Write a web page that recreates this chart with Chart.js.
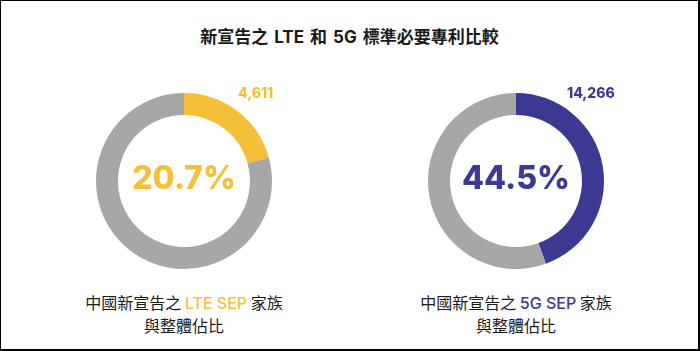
<!DOCTYPE html>
<html>
<head>
<meta charset="utf-8">
<script src="https://cdn.jsdelivr.net/npm/chart.js@4"></script>
<style>
    html, body { margin: 0; padding: 0; background: #fff; }
    #frame {
        position: relative;
        width: 700px; height: 351px;
        box-sizing: border-box;
        border-left: 1px solid #000; border-top: 1px solid #000;
        border-right: 2px solid #000; border-bottom: 2px solid #000;
        font-family: "Noto Sans CJK TC", "Noto Sans", sans-serif;
        color: #1a1a1a;
    }
    #title {
        position: absolute; left: 0; width: 100%; top: 22px;
        text-align: center; font-size: 17px; font-weight: 700;
        font-family: Inter, "Noto Sans CJK TC", sans-serif;
        word-spacing: 2px;
    }
    .box { position: absolute; top: 80px; width: 300px; height: 200px; }
    .caption {
        position: absolute; top: 290px; width: 300px;
        text-align: center; font-size: 16px; line-height: 22px;
    }
    .caption b { font-weight: 500; font-family: Inter, "Noto Sans CJK TC", sans-serif; }
</style>
</head>
<body>
<div id="frame">
    <div id="title">新宣告之 LTE 和 5G 標準必要專利比較</div>
    <div class="box" style="left:33px"><canvas id="lteChart" width="300" height="200"></canvas></div>
    <div class="box" style="left:365px"><canvas id="fiveGChart" width="300" height="200"></canvas></div>
    <div class="caption" style="left:33px">中國新宣告之 <b style="color:#F5BF37">LTE SEP</b> 家族<br>與整體佔比</div>
    <div class="caption" style="left:365px">中國新宣告之 <b style="color:#3C3992">5G SEP</b> 家族<br>與整體佔比</div>
</div>
<script>
// data
const segments = ["中國", "其他"];
const lteValues = [4611, 17664];
const fiveGValues = [14266, 17792];
const shareLabels = ["20.7%", "44.5%"];
const countLabels = ["4,611", "14,266"];

const colors = ["#F5BF37", "#3C3992"];
const grey = "#A7A7A7";

// center percentage and slice count label
const labelPlugin = {
    id: "donutLabels",
    afterDatasetsDraw(chart, args, opts) {
        const ctx = chart.ctx;
        const arc = chart.getDatasetMeta(0).data[0];
        const cx = arc.x, cy = arc.y, r = arc.outerRadius;
        ctx.save();
        ctx.fillStyle = opts.color;
        ctx.textBaseline = "middle";
        ctx.textAlign = "center";
        ctx.font = "800 32px Inter";
        ctx.fillText(opts.share, cx, cy - 2);
        ctx.textAlign = "left";
        ctx.font = "800 14px Inter";
        ctx.fillText(opts.count, cx + opts.dx, cy - r + 1);
        ctx.restore();
    }
};

function makeDonut(id, values, i, dx) {
    new Chart(document.getElementById(id), {
        type: "doughnut",
        data: {
            labels: segments,
            datasets: [{
                data: values,
                backgroundColor: [colors[i], grey],
                borderWidth: 0
            }]
        },
        options: {
            responsive: false,
            animation: false,
            cutout: "75%",
            layout: { padding: { left: 62, right: 62, top: 12, bottom: 12 } },
            plugins: {
                legend: { display: false },
                tooltip: { enabled: false },
                donutLabels: { color: colors[i], share: shareLabels[i], count: countLabels[i], dx: dx }
            }
        },
        plugins: [labelPlugin]
    });
}

makeDonut("lteChart", lteValues, 0, 54);
makeDonut("fiveGChart", fiveGValues, 1, 51);
</script>
</body>
</html>
